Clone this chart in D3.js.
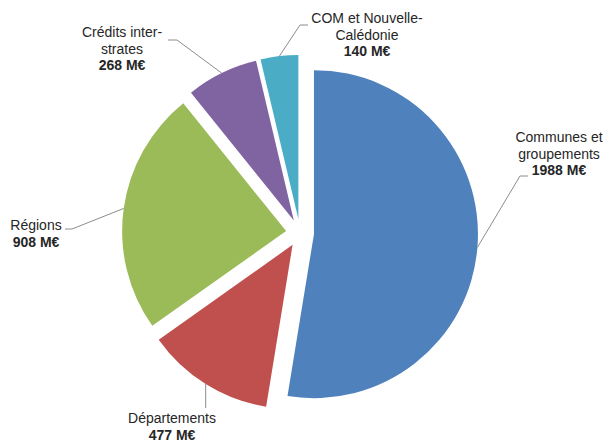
<!DOCTYPE html>
<html lang="fr">
<head>
    <meta charset="UTF-8">
    <title>Répartition par strate</title>
    <script src="https://d3js.org/d3.v7.min.js"></script>
    <style>
        body { margin: 0; background: #fff; }
        .label text {
            font-family: "Liberation Sans", Arial, Helvetica, sans-serif;
            font-size: 14px;
            fill: #262626;
            text-anchor: middle;
        }
        .label .value { font-weight: bold; }
        .leader { fill: none; stroke: #8c8c8c; stroke-width: 1px; }
    </style>
</head>
<body>
    <svg width="607" height="444"></svg>

    <script>
        // data
        const categories = ["Communes et groupements", "Départements", "Régions", "Crédits inter-strates", "COM et Nouvelle-Calédonie"];
        const values = [1988, 477, 908, 268, 140];
        const valueLabels = ["1988 M€", "477 M€", "908 M€", "268 M€", "140 M€"];
        const nameLines = [["Communes et", "groupements"], ["Départements"], ["Régions"], ["Crédits inter-", "strates"], ["COM et Nouvelle-", "Calédonie"]];
        const colors = ["#4f81bd", "#c0504d", "#9bbb59", "#8064a2", "#4bacc6"];

        const width = 607, height = 444;
        const cx = 300, cy = 233, radius = 164, explode = 14;
        const lineH = 16.5;

        // where each label block sits (centre x, first baseline) and the elbow of its leader
        const labelLayout = [
            { x: 559, y: 142, elbow: [520, 176], end: [528, 176] },
            { x: 172, y: 423, elbow: null, end: [null, 408] },
            { x: 36,  y: 230, elbow: [72, 229], end: [65, 229] },
            { x: 122, y: 37,  elbow: [177, 40], end: [168, 40] },
            { x: 367, y: 23,  elbow: [300, 25], end: [308, 25] }
        ];

        const svg = d3.select("svg");
        const g = svg.append("g").attr("transform", `translate(${cx},${cy})`);

        const pie = d3.pie().sort(null).value(d => d);
        const arcs = pie(values);
        const arc = d3.arc().innerRadius(0).outerRadius(radius);
        const rim = d3.arc().innerRadius(radius).outerRadius(radius);

        function offset(d) {
            const a = (d.startAngle + d.endAngle) / 2;
            return [explode * Math.sin(a), -explode * Math.cos(a)];
        }

        g.selectAll(".slice")
            .data(arcs)
            .enter().append("path")
            .attr("class", "slice")
            .attr("transform", d => `translate(${offset(d)})`)
            .attr("fill", (d, i) => colors[i])
            .attr("d", arc);

        // leader lines
        g.selectAll(".leader")
            .data(arcs)
            .enter().append("path")
            .attr("class", "leader")
            .attr("d", (d, i) => {
                const o = offset(d);
                const c = rim.centroid(d);
                const s = [c[0] + o[0], c[1] + o[1]];
                const L = labelLayout[i];
                const pts = [s];
                if (L.elbow) pts.push([L.elbow[0] - cx, L.elbow[1] - cy]);
                pts.push([L.end[0] == null ? s[0] : L.end[0] - cx, L.end[1] - cy]);
                return d3.line()(pts);
            });

        // labels
        const label = svg.selectAll(".label")
            .data(arcs)
            .enter().append("g")
            .attr("class", "label");

        label.each(function (d, i) {
            const L = labelLayout[i];
            const t = d3.select(this);
            nameLines[i].forEach((line, k) => {
                t.append("text").attr("x", L.x).attr("y", L.y + k * lineH).text(line);
            });
            t.append("text")
                .attr("class", "value")
                .attr("x", L.x)
                .attr("y", L.y + nameLines[i].length * lineH)
                .text(valueLabels[i]);
        });
    </script>
</body>
</html>
